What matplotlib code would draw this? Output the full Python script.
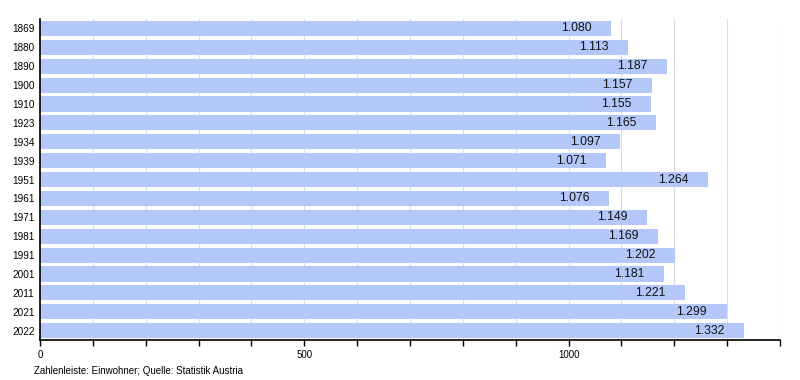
import matplotlib
matplotlib.use("Agg")
import matplotlib.pyplot as plt
from matplotlib.ticker import MultipleLocator, FixedLocator

years = ["1869", "1880", "1890", "1900", "1910", "1923", "1934", "1939", "1951",
         "1961", "1971", "1981", "1991", "2001", "2011", "2021", "2022"]
population = [1080, 1113, 1187, 1157, 1155, 1165, 1097, 1071, 1264,
              1076, 1149, 1169, 1202, 1181, 1221, 1299, 1332]
xticks_labeled = [0, 500, 1000]
caption = "Zahlenleiste: Einwohner; Quelle: Statistik Austria"

plt.rcParams['font.family'] = ['Liberation Sans', 'DejaVu Sans']

fig = plt.figure(figsize=(8, 3.8), dpi=100)
ax = fig.add_axes([0.05, 0.105, 0.925, 0.845])

ypos = list(range(len(years)))
ax.barh(ypos, population, height=0.8, color="#b3c8f8", zorder=2)
for y, v in zip(ypos, population):
    lbl = f"{v/1000:.3f}"
    ax.annotate(lbl, (v, y), xytext=(-14, 0), textcoords="offset points",
                ha="right", va="center", fontsize=8.7, color="#111111", zorder=3)

ax.set_ylim(len(years) - 0.5, -0.5)
ax.set_yticks(ypos)
ax.set_yticklabels(years, fontsize=7.2)
ax.tick_params(axis="y", length=0, pad=4)

ax.set_xlim(0, 1400)
ax.xaxis.set_major_locator(FixedLocator(xticks_labeled))
ax.xaxis.set_minor_locator(MultipleLocator(100))
ax.tick_params(axis="x", which="both", length=4, width=1, labelsize=7, pad=3, color="black")
ax.grid(axis="x", which="both", color="#dddddd", linewidth=0.8, zorder=0)
ax.set_axisbelow(True)

for s in ["top", "right"]:
    ax.spines[s].set_visible(False)
ax.spines["left"].set_linewidth(1.2)
ax.spines["bottom"].set_linewidth(1.2)

fig.text(0.043, 0.01, caption, fontsize=7, ha="left", va="bottom")

fig.savefig("out.png", dpi=100)
